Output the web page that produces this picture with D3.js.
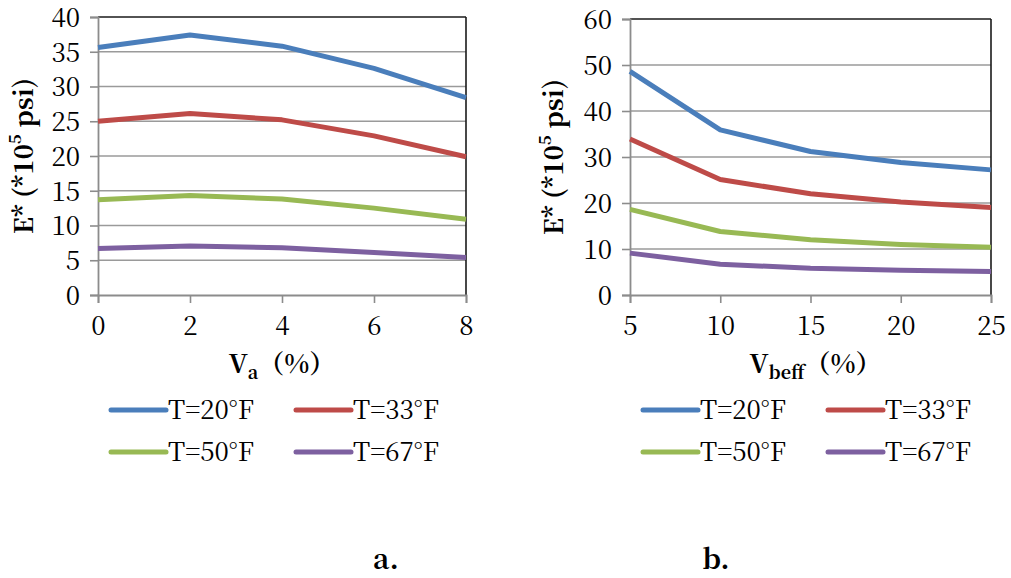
<!DOCTYPE html>
<html><head><meta charset="utf-8">
<script src="https://cdn.jsdelivr.net/npm/d3@7"></script>
<style>body{margin:0;background:#fff;}</style></head>
<body><svg id="c" width="1011" height="578"></svg>
<script>
const seriesNames = ["T=20°F","T=33°F","T=50°F","T=67°F"];
const seriesColors = ["#4A7EBB","#BE4B48","#98B954","#7D60A0"];
// Chart a: Va (%)
const vaValues = [0,2,4,6,8];
const aT20 = [35.6,37.4,35.8,32.6,28.4];
const aT33 = [25.0,26.1,25.2,22.9,19.9];
const aT50 = [13.7,14.3,13.8,12.5,10.9];
const aT67 = [6.7,7.05,6.8,6.1,5.4];
const aYTicks = [0,5,10,15,20,25,30,35,40];
// Chart b: Vbeff (%)
const vbValues = [5,10,15,20,25];
const bT20 = [48.6,35.9,31.2,28.8,27.2];
const bT33 = [33.9,25.1,22.0,20.2,19.0];
const bT50 = [18.6,13.8,12.0,11.0,10.4];
const bT67 = [9.1,6.7,5.8,5.4,5.1];
const bYTicks = [0,10,20,30,40,50,60];

const FONT = "'Noto Serif CJK SC','Liberation Serif',serif";
const svg = d3.select("#c");
function T(sel, size, bold){
  return sel.style("font-family",FONT).style("font-size",size+"px")
    .style("font-weight",bold?"bold":"normal").style("fill","#000");
}

function drawChart(cfg){
  const g = svg.append("g");
  const x = d3.scaleLinear().domain(cfg.xDomain).range([cfg.left, cfg.right]);
  const y = d3.scaleLinear().domain(cfg.yDomain).range([cfg.bottom, cfg.top]);
  g.selectAll(".grid").data(cfg.yTicks.filter(t=>t>cfg.yDomain[0] && t<cfg.yDomain[1])).enter()
    .append("line").attr("x1",cfg.left).attr("x2",cfg.right)
    .attr("y1",d=>y(d)).attr("y2",d=>y(d))
    .attr("stroke","#9a9a9a").attr("stroke-width",1.6);
  g.append("line").attr("x1",cfg.left).attr("x2",cfg.right).attr("y1",cfg.top).attr("y2",cfg.top)
    .attr("stroke","#1a1a1a").attr("stroke-width",1.6);
  g.append("line").attr("x1",cfg.right).attr("x2",cfg.right).attr("y1",cfg.top).attr("y2",cfg.bottom)
    .attr("stroke","#1a1a1a").attr("stroke-width",1.6);
  const ya = d3.axisLeft(y).tickValues(cfg.yTicks).tickSize(8).tickPadding(10).tickFormat(d3.format("d"));
  const yg = g.append("g").attr("transform",`translate(${cfg.left},0)`).call(ya);
  yg.select(".domain").attr("stroke","#8c8c8c").attr("stroke-width",1.8);
  yg.selectAll(".tick line").attr("stroke","#8c8c8c").attr("stroke-width",1.6);
  T(yg.selectAll(".tick text"),26,false).attr("dy","0.36em");
  const xa = d3.axisBottom(x).tickValues(cfg.xTicks).tickSize(8).tickPadding(14).tickFormat(d3.format("d"));
  const xg = g.append("g").attr("transform",`translate(0,${cfg.bottom})`).call(xa);
  xg.select(".domain").attr("stroke","#8c8c8c").attr("stroke-width",1.8);
  xg.selectAll(".tick line").attr("stroke","#8c8c8c").attr("stroke-width",1.6);
  T(xg.selectAll(".tick text"),26,false);
  const line = d3.line().x((d,i)=>x(cfg.xValues[i])).y(d=>y(d));
  cfg.series.forEach((s,k)=>{
    g.append("path").attr("d",line(s)).attr("fill","none")
      .attr("stroke",seriesColors[k]).attr("stroke-width",5).attr("stroke-linejoin","round");
  });
  const yt = T(g.append("text"),26,true)
    .attr("transform",`translate(${cfg.yTitleX},${(cfg.top+cfg.bottom)/2}) rotate(-90)`)
    .attr("text-anchor","middle").attr("dominant-baseline","middle");
  yt.append("tspan").text("E* (*10");
  yt.append("tspan").text("5").style("font-size","17px").attr("dy",-9);
  yt.append("tspan").text(" psi)").attr("dy",9);
  const xt = T(g.append("text"),26,true).attr("x",(cfg.left+cfg.right)/2+cfg.xTitleDx).attr("y",cfg.bottom+78)
    .attr("text-anchor","middle");
  xt.append("tspan").text("V");
  xt.append("tspan").text(cfg.sub).style("font-size","18px").attr("dy",6);
  xt.append("tspan").text("（%）").attr("dy",-6);
  seriesNames.forEach((n,k)=>{
    const col = k%2, row = Math.floor(k/2);
    const lx = cfg.legX + col*185, ly = cfg.legY + row*42;
    g.append("line").attr("x1",lx).attr("x2",lx+55).attr("y1",ly).attr("y2",ly)
      .attr("stroke",seriesColors[k]).attr("stroke-width",5).attr("stroke-linecap","round");
    T(g.append("text"),26,false).attr("x",lx+57).attr("y",ly+9).text(n);
  });
  T(svg.append("text"),28,true).attr("x",cfg.panelX).attr("y",569).attr("text-anchor","middle").text(cfg.panel);
}

drawChart({left:98,right:466,top:17,bottom:295,xDomain:[0,8],yDomain:[0,40],
  xValues:vaValues,xTicks:vaValues,yTicks:aYTicks,series:[aT20,aT33,aT50,aT67],
  yTitleX:26,sub:"a",xTitleDx:0,legX:111,legY:410,panelX:386,panel:"a."});
drawChart({left:630,right:991,top:19,bottom:295,xDomain:[5,25],yDomain:[0,60],
  xValues:vbValues,xTicks:vbValues,yTicks:bYTicks,series:[bT20,bT33,bT50,bT67],
  yTitleX:556,sub:"beff",xTitleDx:5,legX:643,legY:410,panelX:716,panel:"b."});
</script></body></html>
